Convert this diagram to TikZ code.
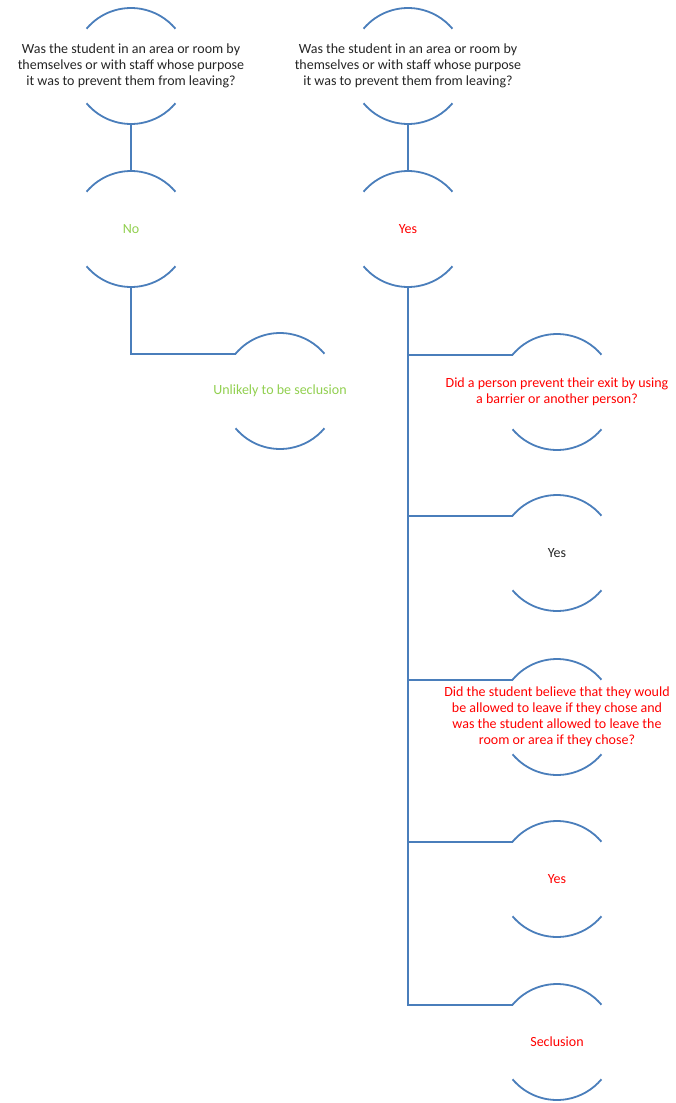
\documentclass[tikz,border=0pt]{standalone}
\usepackage{fontspec}
\setmainfont{Carlito}
\usetikzlibrary{calc}
\definecolor{linkblue}{HTML}{4A7EBB}
\definecolor{txtdark}{HTML}{262626}
\definecolor{txtgreen}{HTML}{92D050}
\definecolor{txtred}{HTML}{FF0000}
\begin{document}
\begin{tikzpicture}[x=1pt,y=-1pt,
  link/.style={draw=linkblue,line width=1.8pt},
  label/.style={align=center,inner sep=0pt,font=\fontsize{14}{16}\selectfont,text=txtdark},
  ok/.style={label,text=txtgreen},
  warn/.style={label,text=txtred}]
\useasboundingbox[fill=white] (0,0) rectangle (676,1103);

% node texts
\node[label] (qL) at (131,66) {Was the student in an area or room by\\themselves or with staff whose purpose\\it was to prevent them from leaving?};
\node[label] (qR) at (408,66) {Was the student in an area or room by\\themselves or with staff whose purpose\\it was to prevent them from leaving?};
\node[ok] (noL) at (131,229) {No};
\node[warn] (yesR) at (408,229) {Yes};
\node[ok] (unl) at (280,391) {Unlikely to be seclusion};
\node[warn] (d1) at (557,392) {Did a person prevent their exit by using\\a barrier or another person?};
\node[label] (y1) at (557,553) {Yes};
\node[warn] (d2) at (557,717) {Did the student believe that they would\\be allowed to leave if they chose and\\was the student allowed to leave the\\room or area if they chose?};
\node[warn] (y2) at (557,879) {Yes};
\node[warn] (sec) at (557,1042) {Seclusion};

% top and bottom arcs of each round frame, plus anchor points
\foreach \n in {qL,qR,noL,yesR,unl,d1,y1,d2,y2,sec}{
  \coordinate (\n-n) at ($(\n.center)+(90:58pt)$);
  \coordinate (\n-s) at ($(\n.center)+(270:58pt)$);
  \coordinate (\n-nw) at ($(\n.center)+(140:58pt)$);
  \draw[link] (\n-nw) arc[start angle=140,end angle=40,radius=58pt];
  \draw[link] ($(\n.center)+(220:58pt)$) arc[start angle=220,end angle=320,radius=58pt];
}

% connectors
\draw[link] (qL-s) -- (noL-n);
\draw[link] (qR-s) -- (yesR-n);
\draw[link] (noL-s) |- (unl-nw);
\foreach \t in {d1,y1,d2,y2,sec}{
  \draw[link] (yesR-s) |- (\t-nw);
}
\end{tikzpicture}
\end{document}
